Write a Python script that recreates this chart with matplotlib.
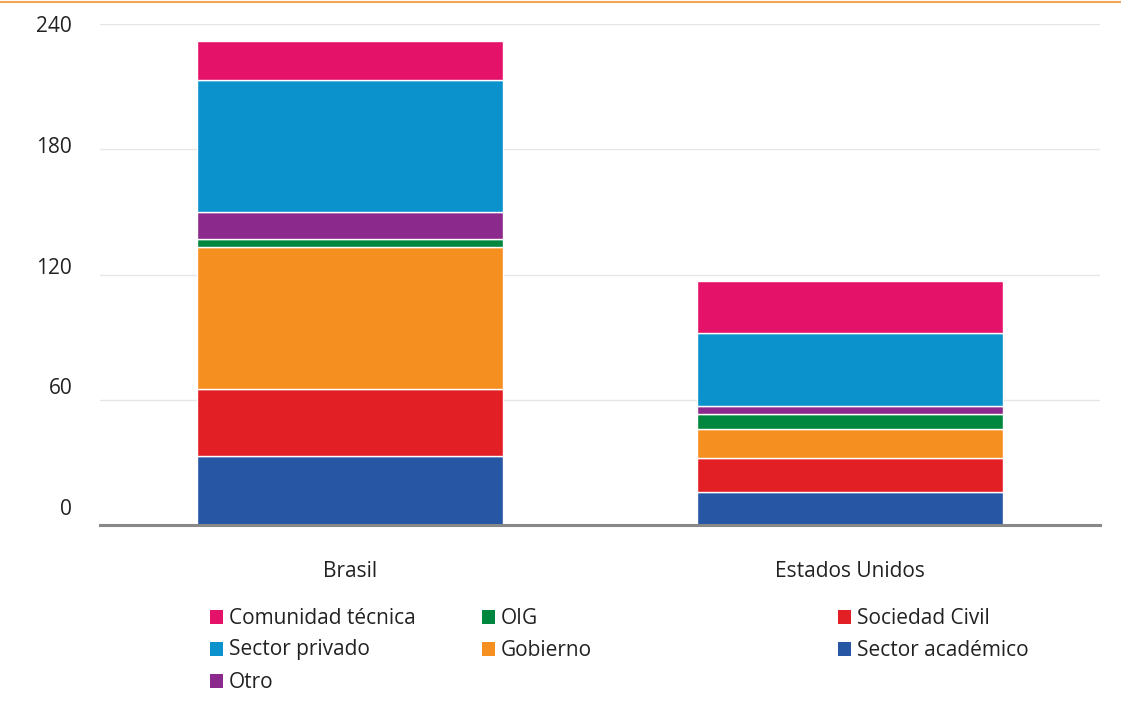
import numpy as np
import matplotlib
matplotlib.use("Agg")
from matplotlib import pyplot as plt
from matplotlib.patches import Rectangle
from matplotlib.lines import Line2D
from matplotlib.transforms import ScaledTranslation

plt.rcParams['font.family'] = ['Open Sans', 'DejaVu Sans']

# datos (de abajo hacia arriba en cada barra)
paises = ['Brasil', 'Estados Unidos']
grupos = ['Sector académico', 'Sociedad Civil', 'Gobierno', 'OIG', 'Otro',
          'Sector privado', 'Comunidad técnica']
academico = [33, 16]
sociedad = [32, 16]
gobierno = [68, 14]
oig = [4, 7]
otro = [13, 4]
privado = [63, 35]
comunidad = [19, 25]
valores = [academico, sociedad, gobierno, oig, otro, privado, comunidad]
colores = ['#2756A5', '#E31F26', '#F58F20', '#00873F', '#8B2A8C',
           '#0B91CC', '#E5126A']
yticks = [0, 60, 120, 180, 240]

# orden de la leyenda (filas de 3)
orden_leyenda = ['Comunidad técnica', 'OIG', 'Sociedad Civil',
                 'Sector privado', 'Gobierno', 'Sector académico', 'Otro']

fs = 15
fig = plt.figure(figsize=(11.21, 7.04), dpi=100)
ax = fig.add_axes([100 / 1121, 1 - 525 / 704, 1000 / 1121, 501 / 704])

x = np.arange(len(paises))
base = np.zeros(len(paises))
for vals, col, nombre in zip(valores, colores, grupos):
    ax.bar(x, vals, bottom=base, width=0.612, color=col, edgecolor='white',
           linewidth=1, label=nombre, zorder=3)
    base += np.array(vals)

ax.set_xlim(-0.5, 1.5)
ax.set_ylim(0, 240)
ax.set_yticks(yticks)
ax.set_yticklabels([str(t) for t in yticks], fontsize=fs, color='#222222')
ax.tick_params(axis='y', length=0, pad=20)
# las etiquetas del eje y van un poco por encima de las líneas
for t, lab in zip(yticks, ax.get_yticklabels()):
    dy = (240 - t) / 240 * 18 / 100
    lab.set_transform(lab.get_transform() + ScaledTranslation(0, dy, fig.dpi_scale_trans))
ax.set_xticks(x)
ax.set_xticklabels(paises, fontsize=fs, color='#222222')
ax.tick_params(axis='x', length=0, pad=26)
ax.grid(axis='y', color='#e6e6e6', linewidth=1, zorder=0)
for s in ['top', 'right', 'left']:
    ax.spines[s].set_visible(False)
ax.spines['bottom'].set_color('#888888')
ax.spines['bottom'].set_linewidth(2.2)
ax.spines['bottom'].set_zorder(4)

# línea naranja arriba
fig.add_artist(Line2D([0, 1], [1 - 1.5 / 704, 1 - 1.5 / 704], color='#F2A65A',
                      linewidth=1.5))

# leyenda manual
col_x = [210, 482, 838]
fila_y = [617, 649, 681]
for i, nombre in enumerate(orden_leyenda):
    c = colores[grupos.index(nombre)]
    px = col_x[i % 3]
    py = fila_y[i // 3]
    fig.add_artist(Rectangle((px / 1121, 1 - (py + 7) / 704), 13 / 1121, 14 / 704,
                             facecolor=c, edgecolor='none'))
    fig.text((px + 19) / 1121, 1 - (py + 1) / 704, nombre, fontsize=fs,
             color='#222222', va='center', ha='left')

fig.savefig('out.png', dpi=100)
